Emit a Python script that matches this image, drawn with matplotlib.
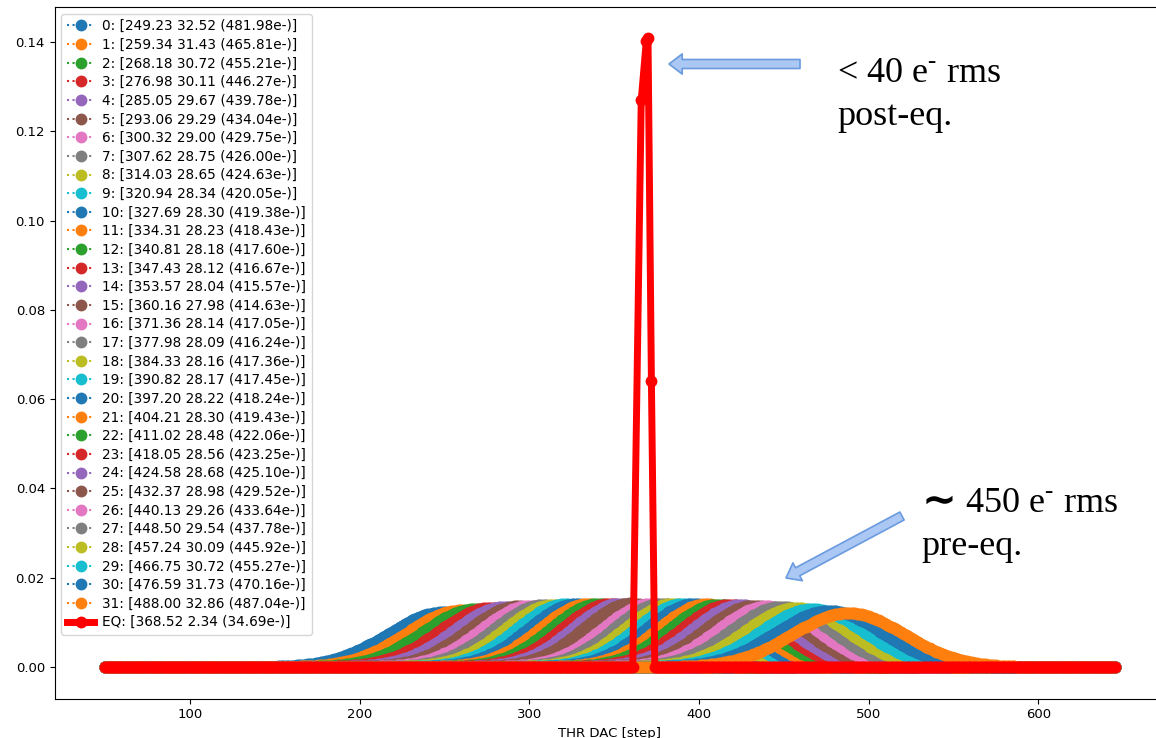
import numpy as np
import matplotlib
matplotlib.use('Agg')
import matplotlib.pyplot as plt
from matplotlib.patches import FancyArrowPatch

# fitted values per pixel: mean, sigma (DAC steps), noise (e-)
means = [249.23, 259.34, 268.18, 276.98, 285.05, 293.06, 300.32, 307.62,
         314.03, 320.94, 327.69, 334.31, 340.81, 347.43, 353.57, 360.16,
         371.36, 377.98, 384.33, 390.82, 397.20, 404.21, 411.02, 418.05,
         424.58, 432.37, 440.13, 448.50, 457.24, 466.75, 476.59, 488.00]
sigmas = [32.52, 31.43, 30.72, 30.11, 29.67, 29.29, 29.00, 28.75,
          28.65, 28.34, 28.30, 28.23, 28.18, 28.12, 28.04, 27.98,
          28.14, 28.09, 28.16, 28.17, 28.22, 28.30, 28.48, 28.56,
          28.68, 28.98, 29.26, 29.54, 30.09, 30.72, 31.73, 32.86]
electrons = [481.98, 465.81, 455.21, 446.27, 439.78, 434.04, 429.75, 426.00,
             424.63, 420.05, 419.38, 418.43, 417.60, 416.67, 415.57, 414.63,
             417.05, 416.24, 417.36, 417.45, 418.24, 419.43, 422.06, 423.25,
             425.10, 429.52, 433.64, 437.78, 445.92, 455.27, 470.16, 487.04]

# equalised distribution
eq_mean, eq_sigma, eq_e = 368.52, 2.34, 34.69
eq_peak_x = [361, 366, 369, 370, 372, 374]
eq_peak_y = [0.0, 0.127, 0.1403, 0.1408, 0.064, 0.0]

thr = np.arange(50, 646)

plt.rcParams['mathtext.fontset'] = 'custom'
plt.rcParams['mathtext.rm'] = 'Liberation Serif'

fig = plt.figure(figsize=(11.56, 7.38), dpi=100)
ax = fig.add_axes([0.0473, 0.0535, 0.9605, 0.937])

for i in range(len(means)):
    mu, s = means[i], sigmas[i]
    y = np.exp(-(thr - mu) ** 2 / (2 * s ** 2)) / (s * np.sqrt(2 * np.pi))
    ax.plot(thr, y, ':', marker='o', markersize=7.5, color='C%d' % (i % 10),
            label='%d: [%.2f %.2f (%.2fe-)]' % (i, mu, s, electrons[i]))

eq_x = np.concatenate([thr[thr < eq_peak_x[0]], eq_peak_x, thr[thr > eq_peak_x[-1]]])
eq_y = np.concatenate([np.zeros((thr < eq_peak_x[0]).sum()), eq_peak_y,
                       np.zeros((thr > eq_peak_x[-1]).sum())])
ax.plot(eq_x, eq_y, '-', color='red', lw=5, marker='o', markersize=7.5,
        label='EQ: [%.2f %.2f (%.2fe-)]' % (eq_mean, eq_sigma, eq_e))

ax.tick_params(labelsize=9.5)
ax.set_xlabel('THR DAC [step]', fontsize=9.5)
ax.legend(loc='upper left', fontsize=9.8, labelspacing=0.34, handletextpad=0.6)

# slide annotations
W, H = 1156.0, 738.0
def fx(px, py):
    return (px / W, 1 - py / H)

arrow_kw = dict(arrowstyle='simple,head_width=1.45,head_length=0.95,tail_width=0.65',
                mutation_scale=10, facecolor='#abc7f3', edgecolor='#6a9ae0',
                lw=1.2, shrinkA=0, shrinkB=0, transform=fig.transFigure)
fig.patches.append(FancyArrowPatch(fx(800, 64), fx(669, 64), **arrow_kw))
fig.patches.append(FancyArrowPatch(fx(902, 516), fx(786, 578), **arrow_kw))

serif = ['Liberation Serif', 'DejaVu Serif']
fig.text(837 / W, 1 - 82 / H, r'< 40 e$^{\text{-}}$ rms', fontsize=26, family=serif)
fig.text(837 / W, 1 - 125 / H, 'post-eq.', fontsize=26, family=serif)
fig.text(922 / W, 1 - 513 / H, '\u223c', fontsize=30, family='DejaVu Sans',
         weight='bold')
fig.text(965 / W, 1 - 512 / H, r'450 e$^{\text{-}}$ rms', fontsize=26, family=serif)
fig.text(921 / W, 1 - 555 / H, 'pre-eq.', fontsize=26, family=serif)

fig.savefig('out.png', dpi=100)
